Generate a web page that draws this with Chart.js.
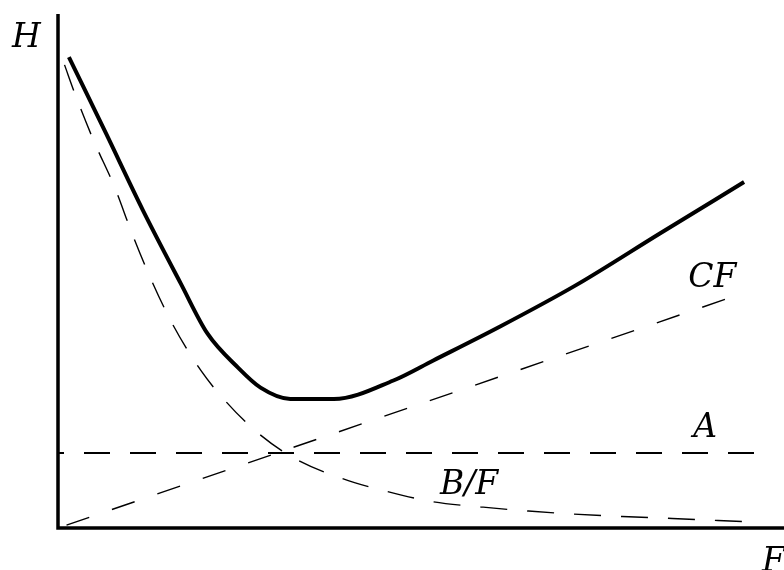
<!DOCTYPE html>
<html>
<head>
<meta charset="utf-8">
<title>H vs F</title>
<script src="https://cdn.jsdelivr.net/npm/chart.js@4"></script>
<style>
    html, body { margin: 0; padding: 0; background: #fff; }
    #plot { display: block; }
</style>
</head>
<body>
<canvas id="plot" width="784" height="570"></canvas>
<script>
// Total plate height H (thick curve)
const hF = [1.5, 6.6, 11.7, 16.9, 20.6, 24.8, 27.9, 32.0, 38.0, 46.2, 51.7, 60.9, 71.3, 82.9, 94.5];
const hValues = [91.6, 76.8, 61.8, 47.6, 37.8, 31.2, 27.3, 25.1, 25.1, 28.7, 32.6, 39.2, 47.2, 57.3, 67.3];

// B/F term
const bF = [0.9, 2.3, 4.9, 7.8, 10.2, 12.9, 15.8, 19.7, 23.0, 27.2, 32.5, 39.2, 45.1, 51.7, 58.2, 64.8, 71.0, 77.7, 84.6, 90.9, 95.7];
const bValues = [90.1, 84.6, 75.4, 66.3, 57.3, 48.1, 39.6, 30.6, 24.8, 18.9, 13.6, 9.6, 7.2, 5.1, 4.1, 3.3, 2.7, 2.24, 1.85, 1.46, 1.17];

// CF term (straight line through the origin)
const cfF = [0, 93.8];
const cfValues = [0, 45.4];

// constant A term
const aF = [0, 96.0];
const aValues = [14.6, 14.6];

const labelFont = 'italic 33px "DejaVu Serif", "Liberation Serif", serif';

// curve labels, placed in data units (left edge, baseline)
const curveLabels = [
    { text: 'CF', f: 86.8, h: 46.9 },
    { text: 'A', f: 87.5, h: 17.7 },
    { text: 'B/F', f: 52.6, h: 6.6 }
];

function toPoints(xs, ys) {
    return xs.map((x, i) => ({ x: x, y: ys[i] }));
}

// Axis lines plus the H / F axis names and the curve labels
const axesAndLabels = {
    id: 'axesAndLabels',
    afterDatasetsDraw(chart) {
        const ctx = chart.ctx;
        const area = chart.chartArea;
        const xs = chart.scales.x;
        const ys = chart.scales.y;

        ctx.save();
        ctx.strokeStyle = '#000';
        ctx.lineWidth = 3.5;
        ctx.lineCap = 'butt';
        ctx.beginPath();
        ctx.moveTo(area.left, area.top);
        ctx.lineTo(area.left, area.bottom);
        ctx.lineTo(chart.width, area.bottom);
        ctx.stroke();

        ctx.fillStyle = '#000';
        ctx.font = labelFont;
        ctx.textAlign = 'left';
        ctx.textBaseline = 'alphabetic';
        ctx.fillText('H', area.left - 46, area.top + 33);
        ctx.fillText('F', area.right - 22, area.bottom + 43);

        curveLabels.forEach(l => {
            ctx.fillText(l.text, xs.getPixelForValue(l.f), ys.getPixelForValue(l.h));
        });
        ctx.restore();
    }
};

const ctx = document.getElementById('plot').getContext('2d');

const chart = new Chart(ctx, {
    type: 'line',
    data: {
        datasets: [
            {
                label: 'H',
                data: toPoints(hF, hValues),
                borderColor: '#000',
                borderWidth: 4,
                cubicInterpolationMode: 'monotone',
                pointRadius: 0
            },
            {
                label: 'B/F',
                data: toPoints(bF, bValues),
                borderColor: '#000',
                borderWidth: 1.4,
                borderDash: [27, 20],
                cubicInterpolationMode: 'monotone',
                pointRadius: 0
            },
            {
                label: 'CF',
                data: toPoints(cfF, cfValues),
                borderColor: '#000',
                borderWidth: 1.4,
                borderDash: [24, 24],
                borderDashOffset: 39,
                pointRadius: 0
            },
            {
                label: 'A',
                data: toPoints(aF, aValues),
                borderColor: '#000',
                borderWidth: 2,
                borderDash: [26, 20],
                borderDashOffset: 20,
                pointRadius: 0
            }
        ]
    },
    options: {
        responsive: false,
        animation: false,
        devicePixelRatio: 1,
        layout: {
            padding: { left: 58, top: 14, right: 0, bottom: 42 }
        },
        scales: {
            x: { type: 'linear', min: 0, max: 100, display: false },
            y: { type: 'linear', min: 0, max: 100, display: false }
        },
        plugins: {
            legend: { display: false },
            tooltip: { enabled: false }
        }
    },
    plugins: [axesAndLabels]
});
</script>
</body>
</html>
